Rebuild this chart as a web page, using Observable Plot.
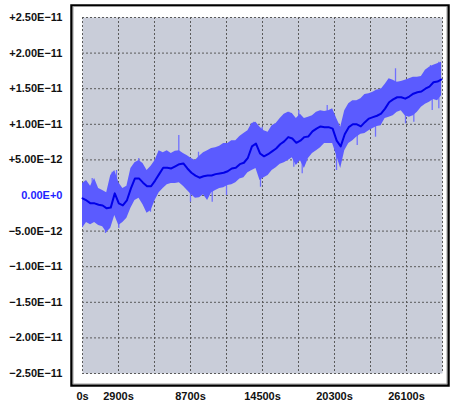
<!DOCTYPE html>
<html><head><meta charset="utf-8">
<script src="https://cdn.jsdelivr.net/npm/d3@7"></script>
<script src="https://cdn.jsdelivr.net/npm/@observablehq/plot@0.6"></script>
<style>body{margin:0;background:#fff;}</style>
</head><body><div id="chart"></div>
<script>
// sample times (s)
const times = [0,325,650,975,1300,1625,1950,2275,2600,2925,3250,3575,3900,4225,4550,4875,5200,5525,5850,6175,6500,6825,7150,7475,7800,8125,8450,8775,9100,9425,9750,10075,10400,10725,11050,11375,11700,12025,12350,12675,13000,13325,13650,13975,14300,14625,14950,15275,15600,15925,16250,16575,16900,17225,17550,17875,18200,18525,18850,19175,19500,19825,20150,20475,20800,21125,21450,21775,22100,22425,22750,23075,23400,23725,24050,24375,24700,25025,25350,25675,26000,26325,26650,26975,27300,27625,27950,28275,28600,28925];
// values in units of 1e-12
const meanE12 = [-0.4,-0.7,-1.1,-1.1,-1.3,-1.4,-1.8,-1.7,0.3,-1.1,-1.4,-0.7,1.0,2.4,2.4,1.8,1.3,1.3,2.1,3.0,3.9,3.9,3.8,4.1,4.4,4.5,3.8,3.2,2.8,2.5,2.7,2.8,2.8,3.0,3.1,3.2,3.4,3.8,3.9,4.4,4.6,5.3,6.9,7.3,5.9,5.5,5.8,6.2,6.6,7.2,7.6,8.2,8.0,7.4,7.7,8.2,8.3,9.0,9.4,9.7,9.6,9.6,9.4,7.7,6.9,8.6,9.6,10.0,10.0,9.7,10.3,10.8,11.0,11.2,11.5,12.2,13.1,13.5,13.8,13.8,13.6,13.9,14.3,14.5,14.6,15.0,15.3,15.9,16.0,16.3];
const upperE12 = [1.7,2.1,1.3,2.4,1.0,0.7,0.4,2.8,3.5,1.8,1.0,1.3,3.8,4.6,4.9,4.5,3.5,4.1,4.9,6.3,6.0,6.3,5.9,6.2,6.3,5.9,5.6,5.2,4.9,5.5,6.0,6.3,6.6,6.7,6.9,7.3,7.3,7.7,7.7,8.3,8.7,9.1,10.1,10.3,9.6,9.1,8.9,9.8,10.1,10.8,11.4,11.7,11.5,10.8,11.4,10.8,11.0,11.2,11.7,11.9,11.8,11.9,12.2,10.8,9.6,11.9,12.9,13.3,13.3,13.6,14.2,14.3,14.5,14.8,14.9,15.6,16.4,16.2,15.9,16.0,16.2,16.4,16.6,16.6,16.7,17.6,18.0,18.3,18.5,18.7];
const lowerE12 = [-4.6,-3.8,-4.1,-3.8,-4.2,-4.4,-5.2,-4.6,-2.8,-4.2,-3.8,-3.2,-1.8,-0.7,-0.4,-1.3,-2.5,-2.1,-0.7,0.4,1.0,1.5,1.7,1.7,1.8,1.3,0.7,0.1,-0.4,-0.3,0.1,-0.7,0.4,0.7,1.0,1.1,1.4,1.5,1.8,2.3,2.5,3.2,3.5,3.8,2.1,2.5,2.8,3.5,3.9,4.4,4.6,4.9,5.3,4.2,4.9,3.8,5.2,5.9,6.3,6.7,7.3,7.3,7.3,5.6,3.8,6.3,7.3,7.7,8.2,8.6,8.7,9.1,9.4,9.7,9.8,10.8,11.0,11.2,11.7,11.9,11.2,11.0,11.2,11.7,12.4,12.8,13.1,13.5,13.3,14.0];

// isolated excursions (spikes) beyond the band: time (s), base and tip (1e-12)
const spikeTimes = [242,781,1853,2393,2739,2924,4535,5478,6284,7758,8700,9345,10449,11117,11601,11657,13800,14340,14477,15363,16620,17022,17425,17699,19713,20462,21324,22130,23604,24007,25215,26021,26690,28035,28172,28704,28704];
const spikeBaseE12 = [-0.5,-1.0,-1.5,-0.5,0.0,-1.2,2.3,1.3,3.2,4.3,3.3,2.6,2.8,3.2,3.3,3.3,7.0,5.9,5.6,6.3,8.1,7.8,7.8,8.1,9.6,7.0,9.6,9.8,11.3,12.0,13.8,13.7,14.4,15.5,15.7,16.2,16.2];
const spikeTipE12 = [-3.75,2.39,-5.34,3.27,3.51,-4.63,5.20,-2.35,6.08,8.43,-0.94,6.08,-0.94,6.08,0.0,7.30,10.29,1.17,9.59,9.83,11.70,3.97,11.94,3.05,12.64,3.51,12.18,7.02,8.19,14.99,17.80,10.07,10.29,18.26,11.94,18.72,12.18];

const xGrid = [0,2900,5800,8700,11600,14500,17400,20300,23200,26100,29000];
const xTicks = [0,2900,8700,14500,20300,26100];
const xTickLabels = ["0s","2900s","8700s","14500s","20300s","26100s"];
const yTicks = [2.5e-11,2e-11,1.5e-11,1e-11,5e-12,0,-5e-12,-1e-11,-1.5e-11,-2e-11,-2.5e-11];
const yTickLabels = ["+2.50E\u221211","+2.00E\u221211","+1.50E\u221211","+1.00E\u221211","+5.00E\u221212","0.00E+0","\u22125.00E\u221212","\u22121.00E\u221211","\u22121.50E\u221211","\u22122.00E\u221211","\u22122.50E\u221211"];

const data = times.map((t, i) => ({t, mean: meanE12[i] * 1e-12, hi: upperE12[i] * 1e-12, lo: lowerE12[i] * 1e-12}));
const spikes = spikeTimes.map((t, i) => ({t, base: spikeBaseE12[i] * 1e-12, tip: spikeTipE12[i] * 1e-12}));
const yLabel = d => yTickLabels[yTicks.indexOf(d)];

const chart = Plot.plot({
  width: 450, height: 403,
  marginLeft: 82, marginRight: 8, marginTop: 17, marginBottom: 30,
  style: {fontFamily: "'Liberation Sans', Arial, sans-serif", fontSize: "11px", fontWeight: "bold", background: "#fff", color: "#000"},
  x: {domain: [0, 29000], axis: null, label: null},
  y: {domain: [-2.5e-11, 2.5e-11], axis: null, label: null},
  marks: [
    Plot.frame({insetLeft: -11, insetTop: -12, insetRight: -6, insetBottom: -12, stroke: "#000", strokeWidth: 2.5, fill: "#fff"}),
    Plot.frame({insetLeft: -9.5, insetTop: -11, insetRight: -4.5, insetBottom: -10.5, stroke: "#9a9a9a", strokeWidth: 1, fill: "none"}),
    Plot.frame({fill: "#c9cdd9", stroke: "none"}),
    Plot.gridX(xGrid, {stroke: "#5a5a5a", strokeOpacity: 1, strokeDasharray: "2,2"}),
    Plot.gridY(yTicks, {stroke: "#5a5a5a", strokeOpacity: 1, strokeDasharray: "2,2"}),
    Plot.ruleX(spikes, {x: "t", y1: "base", y2: "tip", stroke: "#7070ff", strokeWidth: 1.3}),
    Plot.areaY(data, {x: "t", y1: "lo", y2: "hi", fill: "#5b5bff", curve: "linear"}),
    Plot.lineY(data, {x: "t", y: "mean", stroke: "#0000e8", strokeWidth: 2}),
    Plot.axisY(yTicks.filter(d => d !== 0), {tickFormat: yLabel, tickSize: 0, tickPadding: 20, fill: "#111", label: null}),
    Plot.axisY([0], {tickFormat: yLabel, tickSize: 0, tickPadding: 20, fill: "#1f1fff", label: null}),
    Plot.axisX(xTicks, {tickFormat: d => xTickLabels[xTicks.indexOf(d)], tickSize: 0, tickPadding: 19, fill: "#111", label: null})
  ]
});
document.getElementById("chart").appendChild(chart);
</script>
</body></html>
